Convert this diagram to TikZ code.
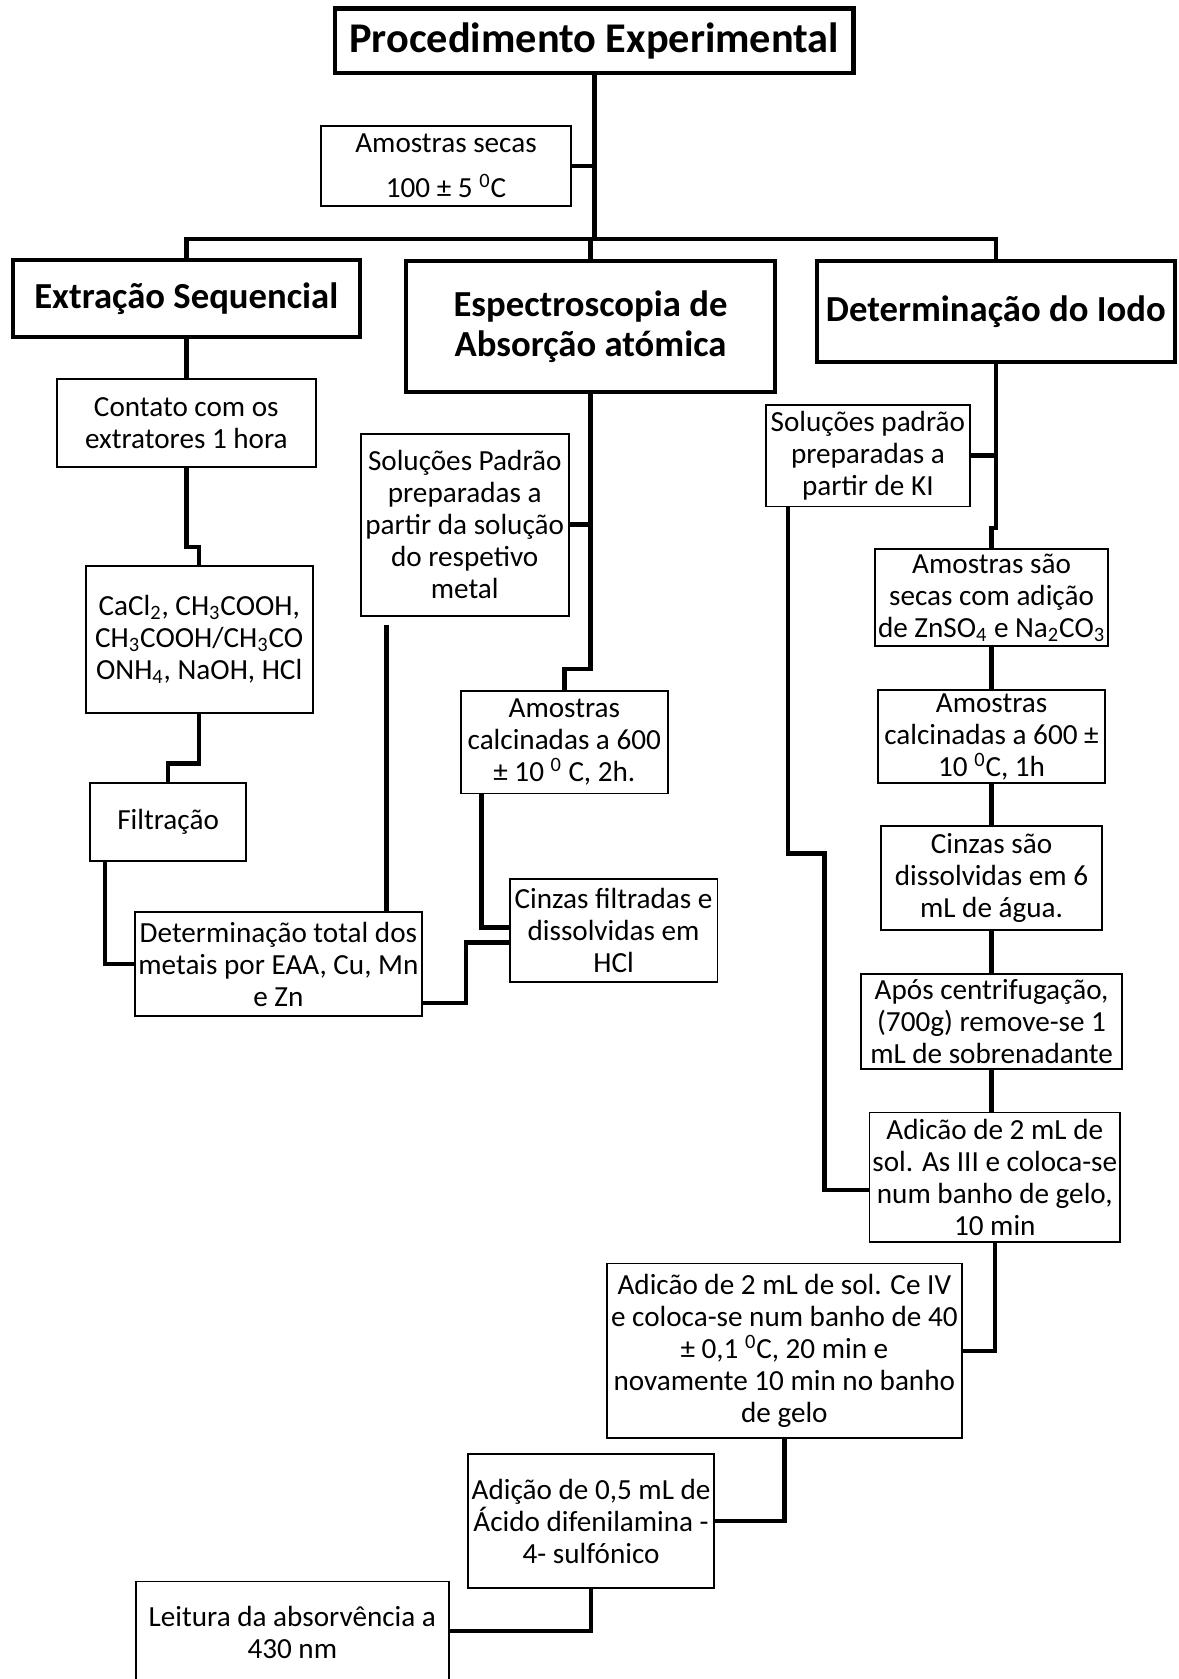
\documentclass[tikz,border=0pt]{standalone}
\usepackage{fontspec}
\setmainfont{Carlito}
\usetikzlibrary{calc}

\begin{document}
\begin{tikzpicture}[x=0.2mm, y=0.2mm,
    caixa/.style={draw, line width=1pt, align=center, inner xsep=0pt, inner ysep=0pt,
        font=\fontsize{15.5}{17}\selectfont},
    titulo/.style={draw, line width=2.2pt, align=center, inner xsep=0pt, inner ysep=0pt,
        font=\fontsize{19.5}{21}\selectfont\bfseries},
    ligacao/.style={line width=2.4pt}]

    % Área da figura
    \useasboundingbox (0,0) rectangle (1101,1568);

    % Título
    \node[titulo, minimum width=96.8mm, minimum height=12mm,
        font=\fontsize{22.5}{26}\selectfont\bfseries] (proc) at (555,1530) {Procedimento Experimental};
    \node[caixa, minimum width=46.6mm, minimum height=14.8mm] (secas) at (416.5,1413)
        {Amostras secas\\[6.8pt]100 ± 5 \textsuperscript{0}C};

    % Três métodos
    \node[titulo, minimum width=64.8mm, minimum height=14.4mm] (extracao) at (174,1289) {Extração Sequencial};
    \node[titulo, minimum width=69mm, minimum height=24.4mm] (espectro) at (551.5,1263)
        {Espectroscopia de\\Absorção atómica};
    \node[titulo, minimum width=66.8mm, minimum height=18.8mm] (iodo) at (930,1277) {Determinação do Iodo};

    % Extração sequencial
    \node[caixa, minimum width=48.4mm, minimum height=16.4mm] (contato) at (174,1173)
        {Contato com os\\extratores 1 hora};
    \node[caixa, minimum width=42.4mm, minimum height=27.4mm] (reagentes) at (186,970.5)
        {CaCl\textsubscript{2}, CH\textsubscript{3}COOH,\\CH\textsubscript{3}COOH/CH\textsubscript{3}CO\\ONH\textsubscript{4}, NaOH, HCl};
    \node[caixa, minimum width=29.2mm, minimum height=14.6mm] (filtracao) at (157,800.5) {Filtração};
    \node[caixa, minimum width=53.6mm, minimum height=19.4mm] (dettotal) at (260,667.5)
        {Determinação total dos\\metais por EAA, Cu, Mn\\e Zn};

    % Absorção atómica
    \node[caixa, minimum width=38.8mm, minimum height=34mm] (padraoAA) at (434,1078)
        {Soluções Padrão\\preparadas a\\partir da solução\\do respetivo\\metal};
    \node[caixa, minimum width=38.6mm, minimum height=19.2mm] (calcAA) at (527,875)
        {Amostras\\calcinadas a 600\\± 10 \textsuperscript{0} C, 2h.};
    \node[caixa, minimum width=38.8mm, minimum height=19.2mm] (cinzasAA) at (573,699)
        {Cinzas filtradas e\\dissolvidas em\\HCl};

    % Iodo
    \node[caixa, minimum width=38.2mm, minimum height=19mm] (padraoKI) at (810.5,1142.5)
        {Soluções padrão\\preparadas a\\partir de KI};
    \node[caixa, minimum width=43.6mm, minimum height=18mm] (secasI) at (926,1010)
        {Amostras são\\secas com adição\\de ZnSO\textsubscript{4} e Na\textsubscript{2}CO\textsubscript{3}};
    \node[caixa, minimum width=42.4mm, minimum height=17.4mm] (calcI) at (926,880)
        {Amostras\\calcinadas a 600 ±\\10 \textsuperscript{0}C, 1h};
    \node[caixa, minimum width=41.4mm, minimum height=19.4mm] (cinzasI) at (926,748)
        {Cinzas são\\dissolvidas em 6\\mL de água.};
    \node[caixa, minimum width=48.8mm, minimum height=17.6mm] (centrif) at (926,614)
        {Após centrifugação,\\(700g) remove-se 1\\mL de sobrenadante};
    \node[caixa, minimum width=46.8mm, minimum height=24.2mm] (arsenio) at (929,468.5)
        {Adicão de 2 mL de\\sol. As III e coloca-se\\num banho de gelo,\\10 min};
    \node[caixa, minimum width=66.2mm, minimum height=32.6mm] (cerio) at (732.5,306.5)
        {Adicão de 2 mL de sol. Ce IV\\e coloca-se num banho de 40\\± 0,1 \textsuperscript{0}C, 20 min e\\novamente 10 min no banho\\de gelo};
    \node[caixa, minimum width=46mm, minimum height=25mm] (acido) at (552,147.5)
        {Adição de 0,5 mL de\\Ácido difenilamina -\\4- sulfónico};
    \node[caixa, minimum width=58.4mm, minimum height=19.2mm] (leitura) at (273,43)
        {Leitura da absorvência a\\430 nm};

    % Tronco principal
    \coordinate (barra) at (555,1345);
    \draw[ligacao] (proc.south) -- (proc.south |- barra);
    \draw[ligacao] (secas.east) -- (secas.east -| barra);
    \draw[ligacao] (extracao.north) |- (iodo.north |- barra) -- (iodo.north);
    \draw[ligacao] (espectro.north) -- (espectro.north |- barra);

    % Ligações da extração
    \draw[ligacao] (extracao.south) -- (contato.north);
    \draw[ligacao] (contato.south) -- ++(0,-74) -| (reagentes.north);
    \draw[ligacao] (reagentes.south) -- ++(0,-46) -| (filtracao.north);
    \draw[ligacao] ($(filtracao.south west)+(15,0)$) |- (dettotal.west);

    % Ligações da absorção atómica
    \draw[ligacao] (espectro.south) -- ++(0,-257) -| (calcAA.north);
    \draw[ligacao] (padraoAA.east) -- (padraoAA.east -| espectro.south);
    \coordinate (padraoAA-pe) at ($(padraoAA.south west)+(25,-8)$);
    \draw[ligacao] (padraoAA-pe) -- (padraoAA-pe |- dettotal.north);
    \draw[ligacao] ($(calcAA.south west)+(20,0)$) |- ($(cinzasAA.west)+(0,3)$);
    \draw[ligacao] ($(cinzasAA.west)+(0,-11)$) -- ++(-40,0) |- ($(dettotal.east)+(0,-36)$);

    % Ligações do iodo
    \draw[ligacao] (iodo.south) -- ++(0,-153) -| (secasI.north);
    \draw[ligacao] (padraoKI.east) -- (padraoKI.east -| iodo.south);
    \draw[ligacao] (secasI.south) -- (calcI.north);
    \draw[ligacao] (calcI.south) -- (cinzasI.north);
    \draw[ligacao] (cinzasI.south) -- (centrif.north);
    \draw[ligacao] (centrif.south) -- (centrif.south |- arsenio.north);
    \coordinate (desvio) at (770,771);
    \draw[ligacao] ($(padraoKI.south west)+(22,0)$) |- (desvio) |- ($(arsenio.west)+(0,-12)$);
    \draw[ligacao] (arsenio.south) |- (cerio.east);
    \draw[ligacao] (cerio.south) |- (acido.east);
    \draw[ligacao] (acido.south) |- ($(leitura.east)+(0,2)$);
\end{tikzpicture}
\end{document}
